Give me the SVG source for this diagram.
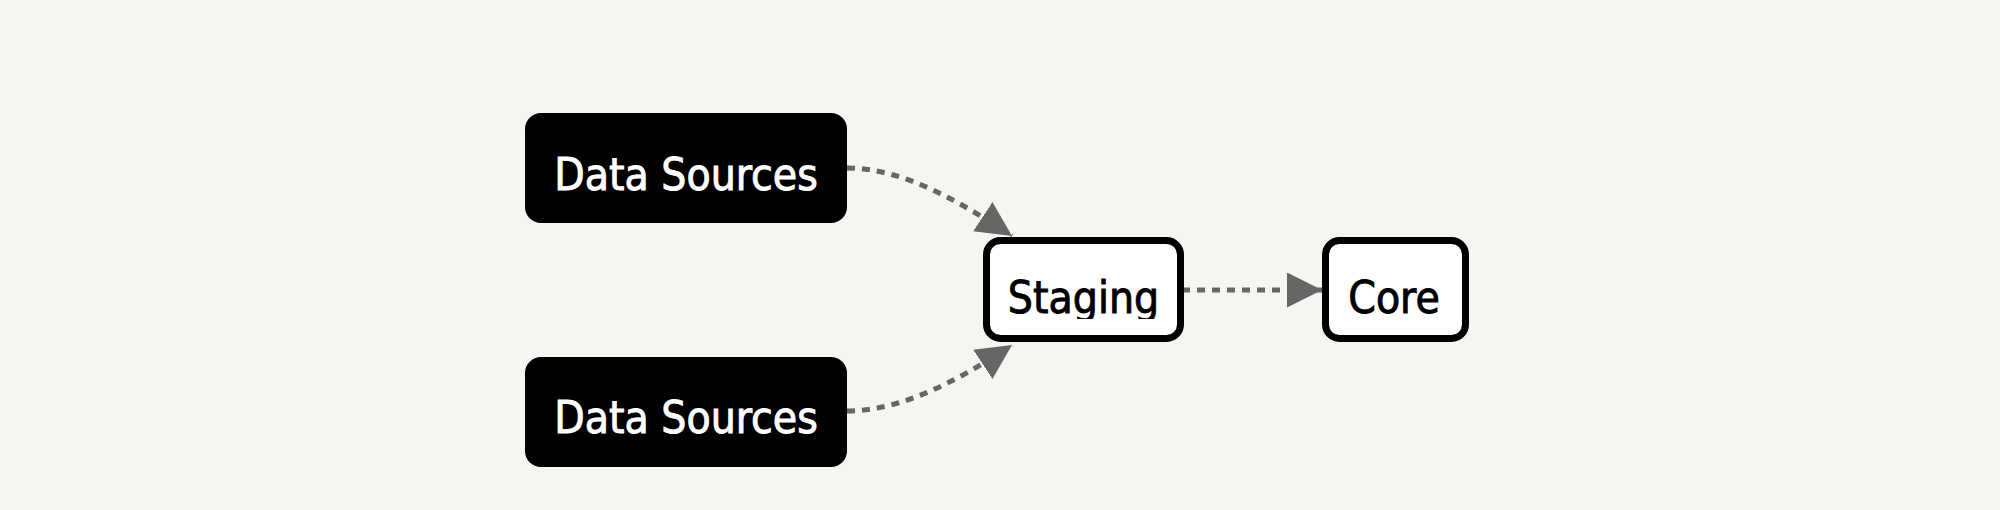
<svg xmlns="http://www.w3.org/2000/svg" width="2000" height="510" viewBox="0 0 2000 510">
  <style>
    .lbl { font-family: "DejaVu Sans Condensed", "DejaVu Sans", sans-serif; font-stretch: condensed; font-size: 44px; text-anchor: middle; stroke-width: 0.9; }
    .dark rect { fill: #000000; }
    .dark text { fill: #ffffff; stroke: #ffffff; }
    .light rect { fill: #ffffff; stroke: #000000; stroke-width: 7; }
    .light text { fill: #000000; stroke: #000000; }
    .edge { fill: none; stroke: #666666; stroke-width: 5; stroke-dasharray: 8 7; marker-end: url(#arrow); }
  </style>
  <defs>
    <marker id="arrow" viewBox="0 0 10 10" refX="10" refY="5" markerWidth="35" markerHeight="35" markerUnits="userSpaceOnUse" orient="auto">
      <path d="M0,0 L10,5 L0,10 z" fill="#666666"/>
    </marker>
    <clipPath id="clipStaging">
      <rect x="990" y="244" width="188" height="75"/>
    </clipPath>
  </defs>
  <rect x="0" y="0" width="2000" height="510" fill="#f7f5f1"/>
  <g id="connectors">
    <path class="edge" d="M847,168 C905,168 965,205 1012,236"/>
    <path class="edge" d="M847,411 C905,411 965,376 1012,345"/>
    <path class="edge" d="M1182,290 L1322,290"/>
  </g>
  <g id="source1" class="dark">
    <rect x="525" y="113" width="322" height="110" rx="16"/>
    <text class="lbl" x="686" y="190">Data Sources</text>
  </g>
  <g id="source2" class="dark">
    <rect x="525" y="357" width="322" height="110" rx="16"/>
    <text class="lbl" x="686" y="433">Data Sources</text>
  </g>
  <g id="staging" class="light">
    <rect x="986.5" y="240.5" width="194" height="98" rx="14"/>
    <text class="lbl" x="1083.5" y="313" clip-path="url(#clipStaging)">Staging</text>
  </g>
  <g id="core" class="light">
    <rect x="1325.5" y="240.5" width="140" height="98" rx="14"/>
    <text class="lbl" x="1394" y="313">Core</text>
  </g>
</svg>
